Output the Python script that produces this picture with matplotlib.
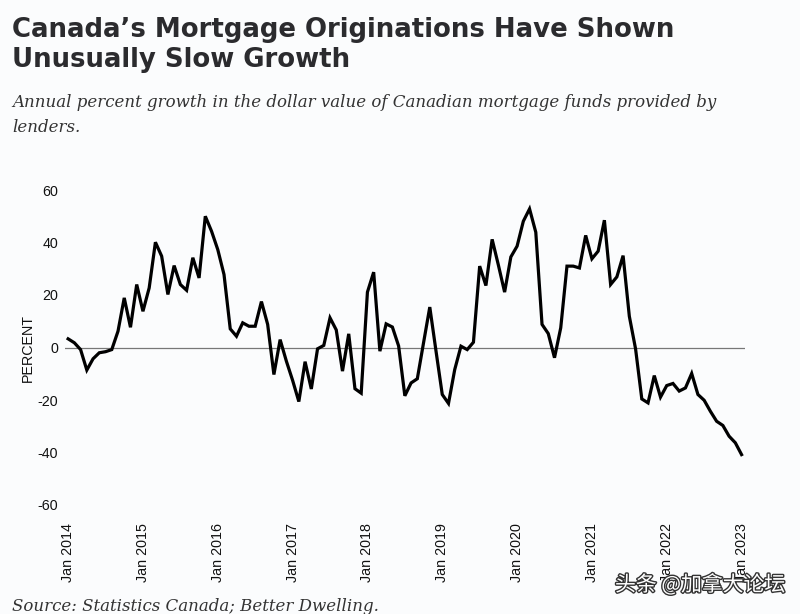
import matplotlib
matplotlib.use("Agg")
import matplotlib.pyplot as plt
import matplotlib.patheffects as pe
import numpy as np

# Monthly values Jan 2014 .. Jan 2023 (annual % growth)
values = [
    3.3, 1.8, -0.8, -8.6, -4.3, -2.0, -1.6, -0.8, 6.2, 18.9, 7.7, 24.0,      # 2014
    13.8, 22.7, 40.1, 34.8, 20.2, 31.2, 24.0, 21.8, 34.2, 26.5, 50.0, 44.3,  # 2015
    37.3, 27.8, 7.1, 4.3, 9.4, 8.1, 8.1, 17.5, 8.8, -10.3, 3.0, -5.2,        # 2016
    -12.5, -20.6, -5.4, -15.8, -0.5, 0.8, 11.3, 6.7, -9.0, 5.2, -15.7, -17.4, # 2017
    21.1, 28.7, -1.4, 9.0, 7.8, 0.6, -18.4, -13.5, -11.9, 1.8, 15.4, -1.4,   # 2018
    -17.9, -21.3, -8.4, 0.5, -0.8, 2.0, 31.0, 23.6, 41.2, 31.4, 21.1, 34.5,  # 2019
    38.6, 48.1, 52.8, 43.9, 8.8, 5.3, -3.9, 7.5, 31.0, 31.0, 30.3, 42.7,     # 2020
    33.8, 36.7, 48.5, 24.0, 26.9, 35.0, 11.9, -0.5, -19.6, -21.1, -10.7, -18.9, # 2021
    -14.5, -13.7, -16.6, -15.4, -9.9, -17.9, -20.1, -24.3, -28.1, -29.7, -33.8, -36.3, # 2022
    -40.8,                                                                     # 2023
]
tick_labels = ["Jan 2014", "Jan 2015", "Jan 2016", "Jan 2017", "Jan 2018",
               "Jan 2019", "Jan 2020", "Jan 2021", "Jan 2022", "Jan 2023"]
y_ticks = [60, 40, 20, 0, -20, -40, -60]

title = "Canada\u2019s Mortgage Originations Have Shown\nUnusually Slow Growth"
subtitle = ("Annual percent growth in the dollar value of Canadian mortgage funds provided by\n"
            "lenders.")
source = "Source: Statistics Canada; Better Dwelling."
watermark = "头条 @加拿大论坛"

W, H = 800, 614
bg = "#fbfcfd"
fig = plt.figure(figsize=(W / 100, H / 100), dpi=100, facecolor=bg)

x0, x1, y0, y1 = 65, 745, 190, 505
ax = fig.add_axes([x0 / W, 1 - y1 / H, (x1 - x0) / W, (y1 - y0) / H])
ax.set_facecolor(bg)

x = np.arange(len(values))
ax.axhline(0, color="#777777", lw=0.9, zorder=1)
ax.plot(x, values, color="black", lw=2.3, solid_joinstyle="miter", zorder=2, clip_on=False)

ax.set_xlim(-0.5, len(values) - 1 + 0.55)
ax.set_ylim(-60, 60)
ax.set_yticks(y_ticks)
ax.set_yticklabels([str(v) for v in y_ticks], fontsize=10.3, family="Liberation Sans", color="#111111")
ax.set_xticks(x[::12])
ax.set_xticklabels(tick_labels, rotation=90, fontsize=10.3, family="Liberation Sans", color="#111111",
                   va="top", ha="center")
ax.tick_params(axis="both", length=0)
ax.tick_params(axis="y", pad=5)
ax.tick_params(axis="x", pad=13)
for s in ax.spines.values():
    s.set_visible(False)
ax.set_ylabel("PERCENT", fontsize=10.3, family="Liberation Sans", color="#111111", labelpad=2)

fig.text(12 / W, 1 - 17 / H, title, fontsize=18.7, fontweight="bold", family="DejaVu Sans",
         color="#2b2b2e", va="top", ha="left", linespacing=1.18)
fig.text(12 / W, 1 - 94 / H, subtitle, fontsize=11.95, style="italic", family="DejaVu Serif",
         color="#333333", va="top", ha="left", linespacing=1.6)
fig.text(12 / W, 1 - 598 / H, source, fontsize=11.95, style="italic", family="DejaVu Serif",
         color="#333333", va="top", ha="left")
fig.text(615 / W, 1 - 585 / H, watermark, fontsize=15, family=["Noto Sans CJK SC", "DejaVu Sans"],
         color="white", va="center", ha="left",
         path_effects=[pe.withStroke(linewidth=2, foreground="#333333")])

fig.savefig("out.png", dpi=100, facecolor=bg)
